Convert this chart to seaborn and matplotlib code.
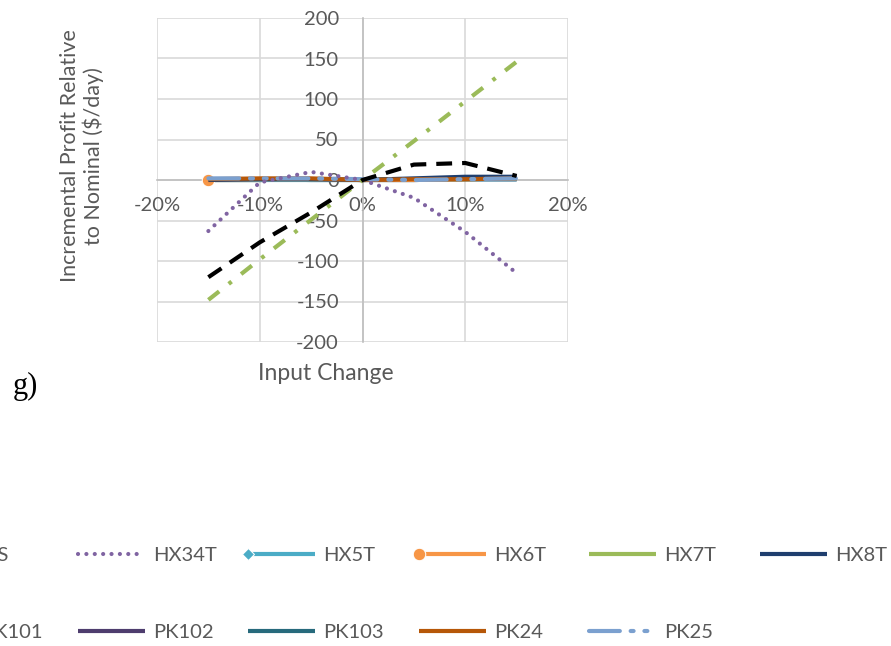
import numpy as np
import pandas as pd
import matplotlib
matplotlib.use("Agg")
import matplotlib.pyplot as plt
import seaborn as sns
from matplotlib.legend_handler import HandlerLine2D
from matplotlib.ticker import PercentFormatter

sns.set_theme(style="white")
plt.rcParams["font.family"] = ["Lato", "DejaVu Sans"]
plt.rcParams["axes.unicode_minus"] = False

# Input change (fraction of nominal) and incremental profit ($/day) per series
input_change = [-0.15, -0.10, -0.05, 0.0, 0.05, 0.10, 0.15]
hs = [-120, -77, -40, 0, 19, 21, 5]
hx34t = [-63, -3, 10, 0, -22, -64, -115]
hx5t = [0, 0, 0, 0, 0, 1, 1]
hx6t = [0, 1, 1, 0, 0, 1, 2]
hx7t = [0, 0, 1, 0, 1, 1, 2]
hx8t = [0, 1, 1, 0, 2, 4, 4]
pk101 = [-148, -98, -49, 0, 48, 97, 146]
pk102 = [0, 0, 1, 0, 0, 1, 1]
pk103 = [0, 1, 0, 0, 1, 1, 1]
pk24 = [1, 2, 2, 0, 1, 1, 2]
pk25 = [2, 2, 2, 1, 0, 1, 2]

y_ticks = [-200, -150, -100, -50, 0, 50, 100, 150, 200]
x_ticks = [-0.2, -0.1, 0.0, 0.1, 0.2]

series = {
    "HS": hs, "PK101": pk101, "HX34T": hx34t, "PK102": pk102,
    "HX5T": hx5t, "PK103": pk103, "HX6T": hx6t, "PK24": pk24,
    "HX7T": hx7t, "PK25": pk25, "HX8T": hx8t,
}

LW = 3.0
styles = {
    "HS": dict(color="#000000", dashes=(3.8, 2.4)),
    "PK101": dict(color="#9BBB59", dashes=(3.3, 2.9, 0.9, 2.9)),
    "HX34T": dict(color="#8064A2", dashes=(0.01, 2.0), dash_capstyle="round"),
    "PK102": dict(color="#4E3D6E"),
    "HX5T": dict(color="#4BACC6", marker="D", markersize=6, markevery=[0]),
    "PK103": dict(color="#276A7C"),
    "HX7T": dict(color="#9BBB59"),
    "HX8T": dict(color="#1F3E6E"),
    "HX6T": dict(color="#F79646", marker="o", markersize=9, markevery=[0]),
    "PK24": dict(color="#B65708"),
    "PK25": dict(color="#7BA0CF", dashes=(7.4, 2.6, 0.7, 2.6, 0.7, 2.6),
                 dash_capstyle="round"),
}
draw_order = ["PK102", "PK103", "HX7T", "HX5T", "HX6T", "HX8T", "PK24", "PK25",
              "HX34T", "PK101", "HS"]


class LeftMarkerHandler(HandlerLine2D):
    """Legend line whose single marker sits at the left end."""

    def create_artists(self, legend, orig_handle, xdescent, ydescent,
                       width, height, fontsize, trans):
        artists = super().create_artists(legend, orig_handle, xdescent,
                                         ydescent, width, height, fontsize,
                                         trans)
        for art in artists:
            art.set_markevery([0])
        return artists


W, H = 891, 646
fig = plt.figure(figsize=(W / 100, H / 100), dpi=100)
ax = fig.add_axes([157 / W, 1 - 342 / H, (568 - 157) / W, (342 - 18) / H])

handles = {}
for name in draw_order:
    st = dict(styles[name])
    dashes = st.pop("dashes", None)
    cap = st.pop("dash_capstyle", "butt")
    sns.lineplot(x=input_change, y=series[name], ax=ax, linewidth=LW,
                 legend=False, label=name, zorder=3, **st)
    line = ax.get_lines()[-1]
    if dashes is not None:
        line.set_dashes(dashes)
    line.set_dash_capstyle(cap)
    line.set_solid_capstyle("butt")
    handles[name] = line

ax.set_xlim(-0.2, 0.2)
ax.set_ylim(-200, 200)
ax.set_xticks(x_ticks)
ax.set_yticks(y_ticks)
ax.xaxis.set_major_formatter(PercentFormatter(1.0, decimals=0))
ax.grid(True, color="#d9d9d9", linewidth=1.2)
ax.set_axisbelow(True)
for side in ["top", "right"]:
    ax.spines[side].set_visible(False)
for side in ["left", "bottom"]:
    ax.spines[side].set_position(("data", 0))
    ax.spines[side].set_color("#bfbfbf")
    ax.spines[side].set_linewidth(1.2)
ax.tick_params(axis="both", length=0, labelsize=14.5, labelcolor="#595959")
ax.tick_params(axis="y", pad=17)
ax.tick_params(axis="x", pad=12)
ax.set_xlabel("")
ax.set_ylabel("")

fig.text(326 / W, 1 - 373 / H, "Input Change", ha="center", va="center",
         fontsize=16.5, color="#595959")
fig.text(82 / W, 1 - 156 / H, "Incremental Profit Relative\nto Nominal ($/day)",
         rotation=90, ha="center", va="center", multialignment="center",
         linespacing=1.1, fontsize=15.5, color="#595959")
fig.text(13 / W, 1 - 394 / H, "g)", ha="left", va="baseline",
         fontsize=22, family="Liberation Serif", color="black")

# Shared legend laid out on a fixed grid: six columns, two rows
legend_rows = [["HS", "HX34T", "HX5T", "HX6T", "HX7T", "HX8T"],
               ["PK101", "PK102", "PK103", "PK24", "PK25"]]
row_y = [555, 632]
left_marker = {handles["HX5T"]: LeftMarkerHandler(),
               handles["HX6T"]: LeftMarkerHandler()}
for r, row in enumerate(legend_rows):
    for i, name in enumerate(row):
        x0 = (-93 + 170.5 * i) / W
        y0 = 1 - row_y[r] / H
        fig.legend([handles[name]], [name], loc="center left",
                   bbox_to_anchor=(x0, y0), bbox_transform=fig.transFigure,
                   frameon=False, borderpad=0, borderaxespad=0,
                   handlelength=3.35, handletextpad=0.4,
                   numpoints=1, fontsize=14.5, labelcolor="#595959",
                   handler_map=left_marker)

fig.savefig("out.png", dpi=100)
